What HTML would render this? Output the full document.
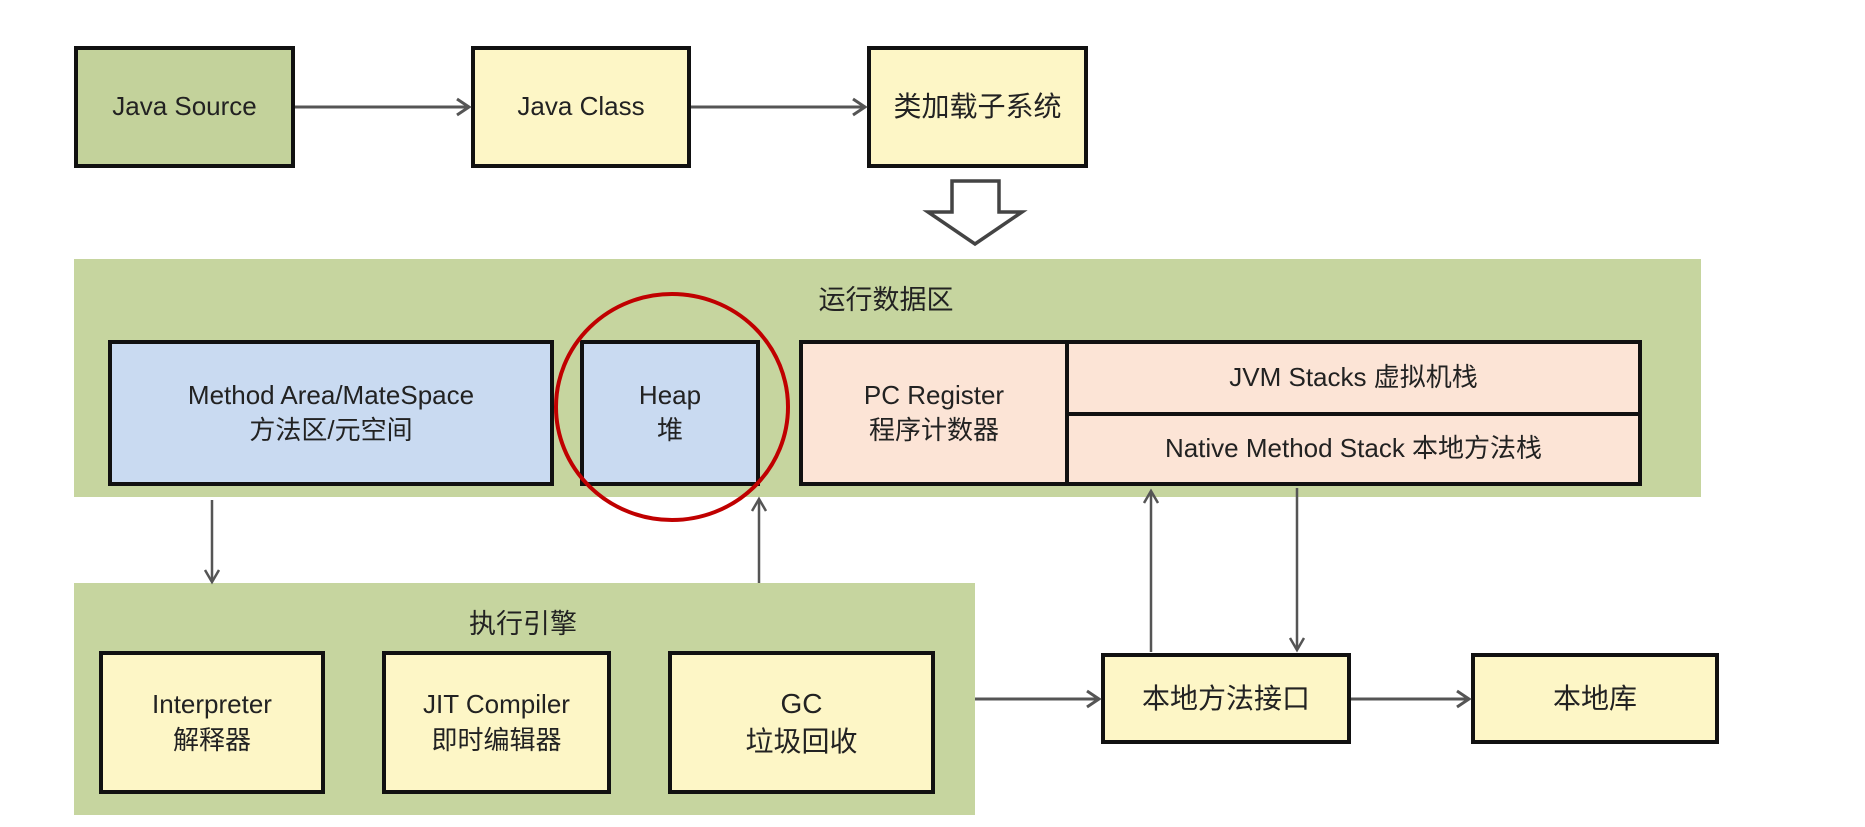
<!DOCTYPE html>
<html><head><meta charset="utf-8"><style>
body{margin:0;width:1865px;height:827px;background:#fff;position:relative;overflow:hidden;font-family:"Liberation Sans","Noto Sans CJK SC",sans-serif;color:#222}
.b{position:absolute;box-sizing:border-box;border:4px solid #111;display:flex;align-items:center;justify-content:center;text-align:center;font-size:26px;line-height:1.35}
.g{position:absolute;background:#c6d59f}
.y{background:#fdf6c6}.gr{background:#c3d29b}.bl{background:#c9daf1}.pk{background:#fce4d6}
.t{position:absolute;font-size:27px;transform:translateX(-50%)}
</style></head><body>
<div class="g" style="left:74px;top:259px;width:1627px;height:238px"></div>
<div class="g" style="left:74px;top:583px;width:901px;height:232px"></div>
<div class="t" style="left:886px;top:278px">运行数据区</div>
<div class="t" style="left:523px;top:602px">执行引擎</div>

<div class="b gr" style="left:74px;top:46px;width:221px;height:122px">Java Source</div>
<div class="b y" style="left:471px;top:46px;width:220px;height:122px">Java Class</div>
<div class="b y" style="left:867px;top:46px;width:221px;height:122px;font-size:28px">类加载子系统</div>

<div class="b bl" style="left:108px;top:340px;width:446px;height:146px">Method Area/MateSpace<br>方法区/元空间</div>
<div class="b bl" style="left:580px;top:340px;width:180px;height:146px">Heap<br>堆</div>
<div class="b pk" style="left:799px;top:340px;width:270px;height:146px">PC Register<br>程序计数器</div>
<div class="b pk" style="left:1065px;top:340px;width:577px;height:76px">JVM Stacks 虚拟机栈</div>
<div class="b pk" style="left:1065px;top:412px;width:577px;height:74px">Native Method Stack 本地方法栈</div>

<div class="b y" style="left:99px;top:651px;width:226px;height:143px">Interpreter<br>解释器</div>
<div class="b y" style="left:382px;top:651px;width:229px;height:143px">JIT Compiler<br>即时编辑器</div>
<div class="b y" style="left:668px;top:651px;width:267px;height:143px;font-size:28px">GC<br>垃圾回收</div>
<div class="b y" style="left:1101px;top:653px;width:250px;height:91px;font-size:28px">本地方法接口</div>
<div class="b y" style="left:1471px;top:653px;width:248px;height:91px;font-size:28px">本地库</div>

<svg width="1865" height="827" style="position:absolute;left:0;top:0" fill="none">
<g stroke="#555" stroke-width="3">
<line x1="295" y1="107" x2="469" y2="107"/><polyline points="457,99 469,107 457,115"/>
<line x1="691" y1="107" x2="865" y2="107"/><polyline points="853,99 865,107 853,115"/>
<line x1="975" y1="699" x2="1099" y2="699"/><polyline points="1087,691 1099,699 1087,707"/>
<line x1="1351" y1="699" x2="1469" y2="699"/><polyline points="1457,691 1469,699 1457,707"/>
</g>
<g stroke="#555" stroke-width="2.5">
<line x1="212" y1="500" x2="212" y2="582"/><polyline points="205,570 212,582 219,570"/>
<line x1="759" y1="583" x2="759" y2="499"/><polyline points="752,511 759,499 766,511"/>
<line x1="1151" y1="652" x2="1151" y2="491"/><polyline points="1144,503 1151,491 1158,503"/>
<line x1="1297" y1="488" x2="1297" y2="650"/><polyline points="1290,638 1297,650 1304,638"/>
</g>
<polygon points="952,181 999,181 999,212 1022,212 975,244 928,212 952,212" fill="#fff" stroke="#444" stroke-width="3.5" stroke-linejoin="miter"/>
<ellipse cx="672" cy="407" rx="116" ry="113" stroke="#c00000" stroke-width="4"/>
</svg>
</body></html>
